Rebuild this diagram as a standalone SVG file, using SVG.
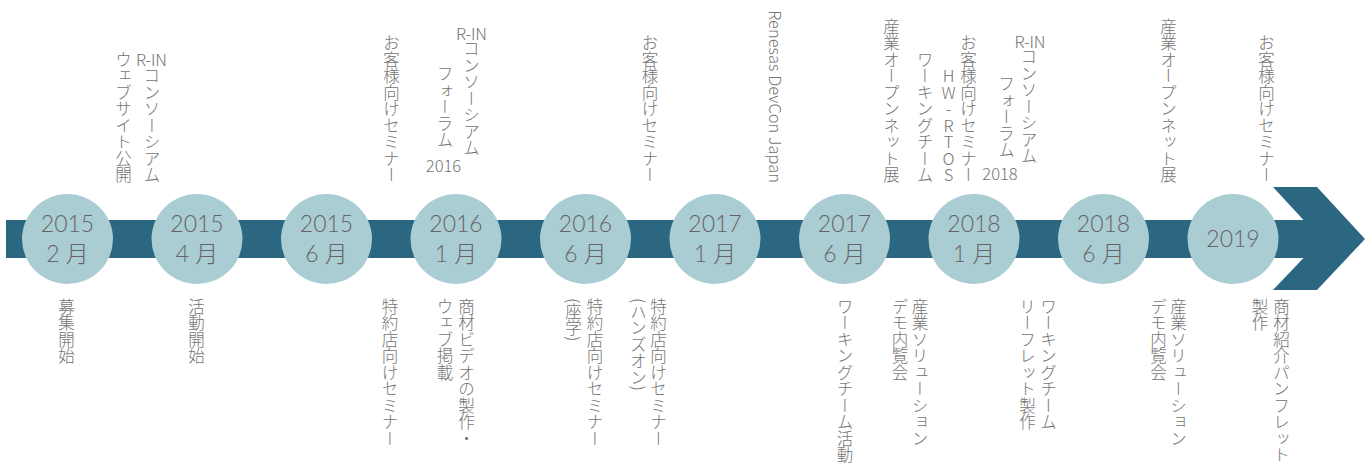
<svg xmlns="http://www.w3.org/2000/svg" width="1366" height="466" viewBox="0 0 1366 466">
<style>
.bar{fill:#2b6780}
.dot{fill:#aacdd4}
.yr{font-family:Lato,"Noto Sans CJK JP",sans-serif;font-size:23px;font-weight:300;fill:#666364;text-anchor:middle}
.v{font-family:"Noto Sans CJK JP","Noto Sans",sans-serif;font-size:16.5px;font-weight:300;fill:#747474;writing-mode:vertical-rl}
.t{text-anchor:end}
.h{font-family:"Noto Sans CJK JP","Noto Sans",sans-serif;font-size:16.5px;font-weight:300;fill:#747474;text-anchor:middle}
.up{text-orientation:upright}
</style>
<rect width="1366" height="466" fill="#ffffff"/>
<g id="connectors">
<path class="bar" d="M6,220 H1303.5 L1273,187 H1317 L1365,239 L1317,290 H1273 L1303.5,258 H6 Z"/>
</g>
<g id="m2015-02"><ellipse class="dot" cx="67.5" cy="239" rx="45.5" ry="45"/><text class="yr"><tspan x="67.5" y="232">2015</tspan><tspan x="67.5" y="262">2 月</tspan></text></g>
<g id="m2015-04"><ellipse class="dot" cx="197" cy="239" rx="45.5" ry="45"/><text class="yr"><tspan x="197" y="232">2015</tspan><tspan x="197" y="262">4 月</tspan></text></g>
<g id="m2015-06"><ellipse class="dot" cx="326.5" cy="239" rx="45.5" ry="45"/><text class="yr"><tspan x="326.5" y="232">2015</tspan><tspan x="326.5" y="262">6 月</tspan></text></g>
<g id="m2016-01"><ellipse class="dot" cx="456" cy="239" rx="45.5" ry="45"/><text class="yr"><tspan x="456" y="232">2016</tspan><tspan x="456" y="262">1 月</tspan></text></g>
<g id="m2016-06"><ellipse class="dot" cx="585.5" cy="239" rx="45.5" ry="45"/><text class="yr"><tspan x="585.5" y="232">2016</tspan><tspan x="585.5" y="262">6 月</tspan></text></g>
<g id="m2017-01"><ellipse class="dot" cx="715" cy="239" rx="45.5" ry="45"/><text class="yr"><tspan x="715" y="232">2017</tspan><tspan x="715" y="262">1 月</tspan></text></g>
<g id="m2017-06"><ellipse class="dot" cx="844.5" cy="239" rx="45.5" ry="45"/><text class="yr"><tspan x="844.5" y="232">2017</tspan><tspan x="844.5" y="262">6 月</tspan></text></g>
<g id="m2018-01"><ellipse class="dot" cx="974" cy="239" rx="45.5" ry="45"/><text class="yr"><tspan x="974" y="232">2018</tspan><tspan x="974" y="262">1 月</tspan></text></g>
<g id="m2018-06"><ellipse class="dot" cx="1103.5" cy="239" rx="45.5" ry="45"/><text class="yr"><tspan x="1103.5" y="232">2018</tspan><tspan x="1103.5" y="262">6 月</tspan></text></g>
<g id="m2019"><ellipse class="dot" cx="1233" cy="239" rx="45.5" ry="45"/><text class="yr" x="1233" y="247">2019</text></g>

<g id="top-2015-04">
<text class="h" x="151.5" y="66">R-IN</text>
<text class="v t" x="152" y="183">コンソーシアム</text>
<text class="v t" x="123.5" y="183">ウェブサイト公開</text>
</g>
<g id="top-2015-06"><text class="v t" x="391.5" y="183">お客様向けセミナー</text></g>
<g id="top-2016-01">
<text class="h" x="471.5" y="40">R-IN</text>
<text class="v t" x="471.5" y="156">コンソーシアム</text>
<text class="v t" x="445" y="148">フォーラム</text>
<text class="h" x="443.5" y="172">2016</text>
</g>
<g id="top-2016-06"><text class="v t" x="650" y="183">お客様向けセミナー</text></g>
<g id="top-2017-01"><text class="v t" x="776" y="183">Renesas DevCon Japan</text></g>
<g id="top-2017-06">
<text class="v t" x="891.5" y="183">産業オープンネット展</text>
<text class="v t" x="925" y="183">ワーキングチーム</text>
</g>
<g id="top-2018-01">
<text class="v t up" x="948.5" y="183">HW-RTOS</text>
<text class="v t" x="968.5" y="183">お客様向けセミナー</text>
<text class="h" x="1030" y="48">R-IN</text>
<text class="v t" x="1029" y="164">コンソーシアム</text>
<text class="v t" x="1006.5" y="158">フォーラム</text>
<text class="h" x="1000" y="180">2018</text>
</g>
<g id="top-2018-06"><text class="v t" x="1168.5" y="183">産業オープンネット展</text></g>
<g id="top-2019"><text class="v t" x="1266.5" y="183">お客様向けセミナー</text></g>

<g id="bot-2015-02"><text class="v" x="66.5" y="298">募集開始</text></g>
<g id="bot-2015-04"><text class="v" x="196.5" y="298">活動開始</text></g>
<g id="bot-2015-06"><text class="v" x="390" y="298">特約店向けセミナー</text></g>
<g id="bot-2016-01">
<text class="v" x="466.5" y="298">商材ビデオの製作・</text>
<text class="v" x="445" y="298">ウェブ掲載</text>
</g>
<g id="bot-2016-06">
<text class="v" x="595" y="298">特約店向けセミナー</text>
<text class="v" x="573.5" y="298">(座学)</text>
</g>
<g id="bot-2017-01">
<text class="v" x="658.5" y="298">特約店向けセミナー</text>
<text class="v" x="638.5" y="298">(ハンズオン)</text>
</g>
<g id="bot-2017-06">
<text class="v" x="845" y="298">ワーキングチーム活動</text>
<text class="v" x="920" y="298">産業ソリューション</text>
<text class="v" x="900" y="298">デモ内覧会</text>
</g>
<g id="bot-2018-01">
<text class="v" x="1048.5" y="298">ワーキングチーム</text>
<text class="v" x="1027.5" y="298">リーフレット製作</text>
</g>
<g id="bot-2018-06">
<text class="v" x="1178.5" y="298">産業ソリューション</text>
<text class="v" x="1158.5" y="298">デモ内覧会</text>
</g>
<g id="bot-2019">
<text class="v" x="1281.5" y="298">商材紹介パンフレット</text>
<text class="v" x="1260" y="298">製作</text>
</g>
</svg>
